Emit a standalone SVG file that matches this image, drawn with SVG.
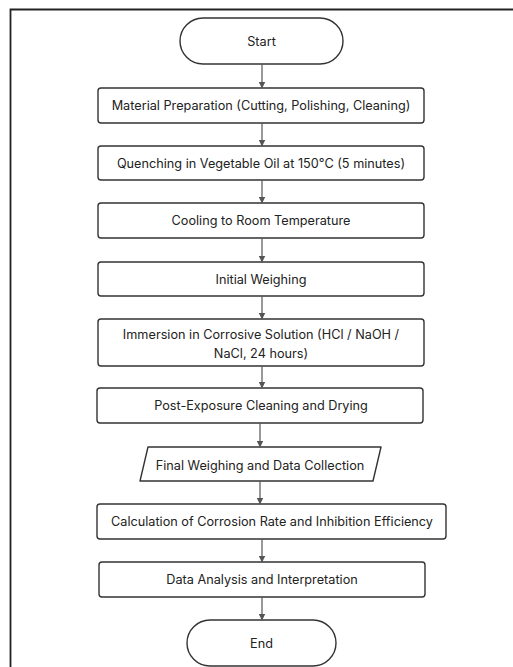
<svg xmlns="http://www.w3.org/2000/svg" width="513" height="667" viewBox="0 0 513 667">
<defs>
<marker id="ah" markerWidth="7" markerHeight="7" refX="6.5" refY="3.5" orient="auto" markerUnits="userSpaceOnUse">
<path d="M0,0 L7,3.5 L0,7 Z" fill="#555"/>
</marker>
<style>
.box{fill:#fff;stroke:#333;stroke-width:1.4}
.t{font-family:Inter,"Liberation Sans",sans-serif;font-size:12.7px;fill:#222;text-anchor:middle}
.c{stroke:#555;stroke-width:1.2;fill:none;marker-end:url(#ah)}
</style>
</defs>
<rect x="0" y="0" width="513" height="667" fill="#fff"/>
<path d="M10.5,667 V9.5 H513" fill="none" stroke="#222" stroke-width="1.8"/>
<g id="start"><rect class="box" x="180" y="18" width="163" height="46" rx="23"/><text class="t" x="261.5" y="45.5">Start</text></g>
<g id="prep"><rect class="box" x="98" y="88" width="326" height="35" rx="3"/><text class="t" x="261" y="110">Material Preparation (Cutting, Polishing, Cleaning)</text></g>
<g id="quench"><rect class="box" x="98" y="146" width="326" height="34" rx="3"/><text class="t" x="261" y="167.5">Quenching in Vegetable Oil at 150°C (5 minutes)</text></g>
<g id="cool"><rect class="box" x="98" y="203" width="326" height="35" rx="3"/><text class="t" x="261" y="225">Cooling to Room Temperature</text></g>
<g id="weigh"><rect class="box" x="98" y="262" width="326" height="34" rx="3"/><text class="t" x="261" y="283.5">Initial Weighing</text></g>
<g id="immerse"><rect class="box" x="98" y="319" width="326" height="47" rx="3"/><text class="t" x="261" y="338.5">Immersion in Corrosive Solution (HCl / NaOH /</text><text class="t" x="261" y="357.5">NaCl, 24 hours)</text></g>
<g id="post"><rect class="box" x="97" y="388" width="326" height="35" rx="3"/><text class="t" x="261" y="410">Post-Exposure Cleaning and Drying</text></g>
<g id="final"><path class="box" d="M148,447 H381 L373,481 H140 Z" stroke-linejoin="round"/><text class="t" x="260" y="469.5">Final Weighing and Data Collection</text></g>
<g id="calc"><rect class="box" x="97" y="504" width="349" height="35" rx="3"/><text class="t" x="272" y="526">Calculation of Corrosion Rate and Inhibition Efficiency</text></g>
<g id="analysis"><rect class="box" x="99" y="562" width="326" height="35" rx="3"/><text class="t" x="262" y="584">Data Analysis and Interpretation</text></g>
<g id="end"><rect class="box" x="187" y="620" width="149" height="46" rx="23"/><text class="t" x="261.5" y="647.5">End</text></g>
<g id="connectors">
<line class="c" x1="262" y1="64" x2="262" y2="88"/>
<line class="c" x1="262" y1="123" x2="262" y2="146"/>
<line class="c" x1="262" y1="180" x2="262" y2="203"/>
<line class="c" x1="262" y1="238" x2="262" y2="262"/>
<line class="c" x1="262" y1="296" x2="262" y2="319"/>
<line class="c" x1="262" y1="366" x2="262" y2="388"/>
<line class="c" x1="260" y1="423" x2="260" y2="447"/>
<line class="c" x1="260" y1="481" x2="260" y2="504"/>
<line class="c" x1="262" y1="539" x2="262" y2="562"/>
<line class="c" x1="262" y1="597" x2="262" y2="620"/>
</g>
</svg>
